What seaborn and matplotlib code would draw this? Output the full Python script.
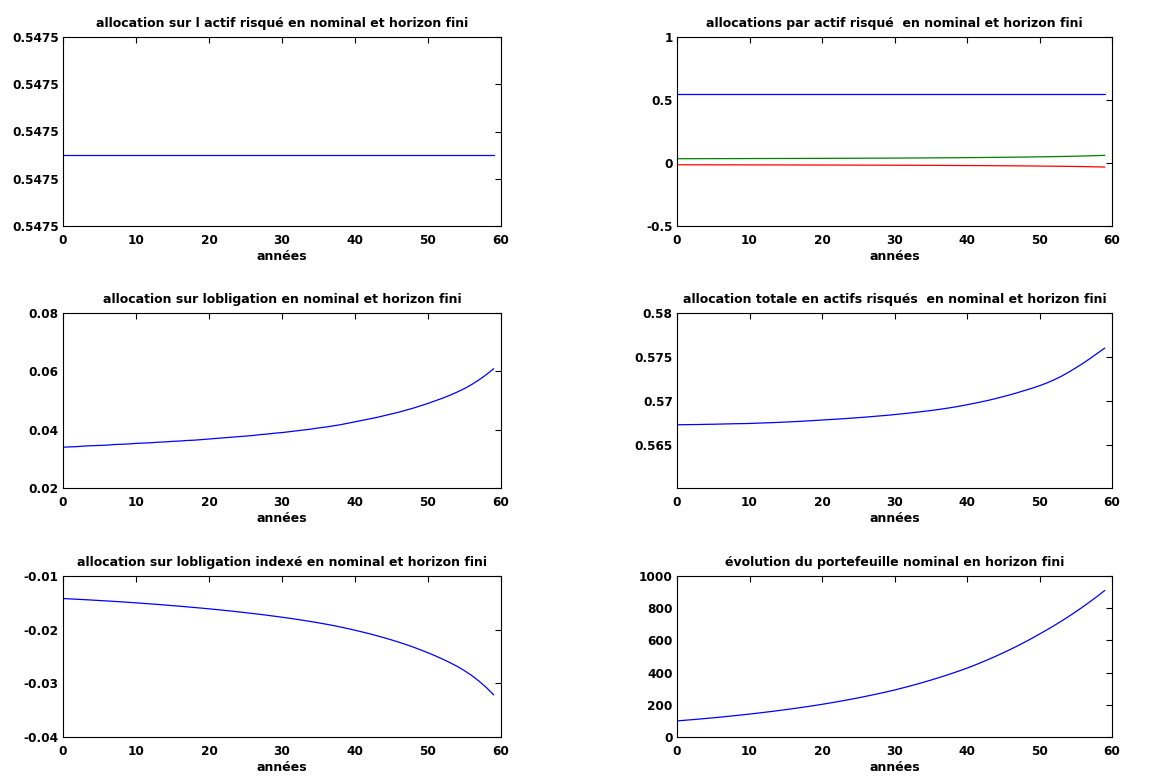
import numpy as np
import seaborn as sns
import matplotlib
matplotlib.use("Agg")
import matplotlib.pyplot as plt
from matplotlib.ticker import FormatStrFormatter

# data
years = list(range(60))

risky = [0.5474995] * 60

bond = [0.0340, 0.0341, 0.0342, 0.0344, 0.0345, 0.0346, 0.0347, 0.0349, 0.0350, 0.0351,
        0.0353, 0.0354, 0.0355, 0.0357, 0.0358, 0.0360, 0.0361, 0.0363, 0.0364, 0.0366,
        0.0368, 0.0370, 0.0372, 0.0374, 0.0376, 0.0378, 0.0380, 0.0383, 0.0385, 0.0388,
        0.0390, 0.0393, 0.0396, 0.0399, 0.0402, 0.0406, 0.0409, 0.0413, 0.0417, 0.0422,
        0.0427, 0.0432, 0.0437, 0.0442, 0.0448, 0.0454, 0.0460, 0.0467, 0.0474, 0.0482,
        0.0490, 0.0499, 0.0508, 0.0518, 0.0529, 0.0541, 0.0555, 0.0571, 0.0589, 0.0609]

indexed = [-0.01420, -0.01427, -0.01434, -0.01441, -0.01449, -0.01457, -0.01465, -0.01473, -0.01482, -0.01491,
           -0.01500, -0.01510, -0.01520, -0.01530, -0.01541, -0.01552, -0.01563, -0.01575, -0.01587, -0.01599,
           -0.01612, -0.01625, -0.01639, -0.01653, -0.01668, -0.01683, -0.01699, -0.01715, -0.01732, -0.01750,
           -0.01768, -0.01787, -0.01807, -0.01828, -0.01850, -0.01873, -0.01897, -0.01922, -0.01950, -0.01980,
           -0.02011, -0.02043, -0.02077, -0.02113, -0.02151, -0.02191, -0.02233, -0.02278, -0.02326, -0.02377,
           -0.02431, -0.02488, -0.02549, -0.02614, -0.02684, -0.02765, -0.02855, -0.02960, -0.03080, -0.03215]

total = [0.56729, 0.56730, 0.56731, 0.56732, 0.56734, 0.56735, 0.56737, 0.56739, 0.56741, 0.56742,
         0.56744, 0.56747, 0.56750, 0.56753, 0.56756, 0.56760, 0.56764, 0.56768, 0.56773, 0.56778,
         0.56783, 0.56788, 0.56793, 0.56798, 0.56804, 0.56810, 0.56816, 0.56823, 0.56830, 0.56837,
         0.56845, 0.56853, 0.56862, 0.56871, 0.56881, 0.56891, 0.56902, 0.56914, 0.56927, 0.56941,
         0.56957, 0.56973, 0.56990, 0.57008, 0.57028, 0.57049, 0.57071, 0.57095, 0.57120, 0.57145,
         0.57173, 0.57204, 0.57240, 0.57280, 0.57326, 0.57376, 0.57428, 0.57484, 0.57543, 0.57601]

wealth = [100.0, 103.6, 107.3, 111.2, 115.2, 119.3, 123.6, 128.1, 132.7, 137.5,
          142.4, 147.6, 152.9, 158.4, 164.1, 170.0, 176.1, 182.4, 189.0, 195.8,
          202.9, 210.4, 218.2, 226.3, 234.6, 243.3, 252.3, 261.6, 271.3, 281.3,
          291.8, 303.2, 315.0, 327.3, 340.0, 353.3, 367.1, 381.4, 396.3, 411.7,
          427.8, 445.3, 463.6, 482.6, 502.4, 523.0, 544.4, 566.8, 590.0, 614.2,
          639.4, 665.0, 691.6, 719.3, 748.0, 777.9, 809.1, 841.4, 875.1, 910.1]

titles = ["allocation sur l actif risqué en nominal et horizon fini",
          "allocations par actif risqué  en nominal et horizon fini",
          "allocation sur lobligation en nominal et horizon fini",
          "allocation totale en actifs risqués  en nominal et horizon fini",
          "allocation sur lobligation indexé en nominal et horizon fini",
          "évolution du portefeuille nominal en horizon fini"]

sns.set_style("white")
plt.rcParams['font.family'] = ['DejaVu Sans']
plt.rcParams['font.weight'] = 'bold'
plt.rcParams['text.color'] = 'black'
plt.rcParams['xtick.color'] = 'black'
plt.rcParams['ytick.color'] = 'black'
plt.rcParams['axes.labelcolor'] = 'black'

fig = plt.figure(figsize=(11.62, 7.76), dpi=100)
W, H = 1162, 776
# axes boxes in pixels: left, top, right, bottom
boxes = [(63, 37, 501, 226), (677, 37, 1112, 226),
         (63, 313, 501, 488), (677, 313, 1112, 488),
         (63, 576, 501, 737), (677, 576, 1112, 737)]
axes = []
for (l, t, r, b) in boxes:
    axes.append(fig.add_axes([l / W, 1 - b / H, (r - l) / W, (b - t) / H]))

lw = 0.9
sns.lineplot(x=years, y=risky, ax=axes[0], color='b', linewidth=lw)
sns.lineplot(x=years, y=risky, ax=axes[1], color='b', linewidth=lw)
sns.lineplot(x=years, y=bond, ax=axes[1], color=(0, 0.5, 0), linewidth=lw)
sns.lineplot(x=years, y=indexed, ax=axes[1], color='r', linewidth=lw)
sns.lineplot(x=years, y=bond, ax=axes[2], color='b', linewidth=lw)
sns.lineplot(x=years, y=total, ax=axes[3], color='b', linewidth=lw)
sns.lineplot(x=years, y=indexed, ax=axes[4], color='b', linewidth=lw)
sns.lineplot(x=years, y=wealth, ax=axes[5], color='b', linewidth=lw)

# y axes
c = 0.5475
axes[0].set_ylim(c - 2e-6, c + 2e-6)
axes[0].set_yticks([c - 2e-6, c - 1e-6, c, c + 1e-6, c + 2e-6])
axes[0].yaxis.set_major_formatter(FormatStrFormatter('%.4f'))

axes[1].set_ylim(-0.5, 1)
axes[1].set_yticks([-0.5, 0, 0.5, 1])
axes[1].set_yticklabels(['-0.5', '0', '0.5', '1'])

axes[2].set_ylim(0.02, 0.08)
axes[2].set_yticks([0.02, 0.04, 0.06, 0.08])
axes[2].set_yticklabels(['0.02', '0.04', '0.06', '0.08'])

axes[3].set_ylim(0.5601, 0.58)
axes[3].set_yticks([0.565, 0.57, 0.575, 0.58])
axes[3].set_yticklabels(['0.565', '0.57', '0.575', '0.58'])

axes[4].set_ylim(-0.04, -0.01)
axes[4].set_yticks([-0.04, -0.03, -0.02, -0.01])
axes[4].set_yticklabels(['-0.04', '-0.03', '-0.02', '-0.01'])

axes[5].set_ylim(0, 1000)
axes[5].set_yticks([0, 200, 400, 600, 800, 1000])
axes[5].set_yticklabels(['0', '200', '400', '600', '800', '1000'])

for ax, title in zip(axes, titles):
    ax.set_xlim(0, 60)
    ax.set_xticks(range(0, 61, 10))
    ax.set_title(title, fontsize=9, fontweight='bold', pad=7, color='black')
    ax.set_xlabel('années', fontsize=9, fontweight='bold', labelpad=2)
    ax.set_ylabel('')
    ax.tick_params(direction='in', top=True, right=True, length=4, width=0.8,
                   labelsize=8.7, color='black')
    ax.tick_params(axis='x', pad=6)
    ax.tick_params(axis='y', pad=3)
    for lab in ax.get_xticklabels() + ax.get_yticklabels():
        lab.set_fontweight('bold')
    for s in ax.spines.values():
        s.set_visible(True)
        s.set_color('black')
        s.set_linewidth(0.8)

fig.savefig('out.png', dpi=100)
